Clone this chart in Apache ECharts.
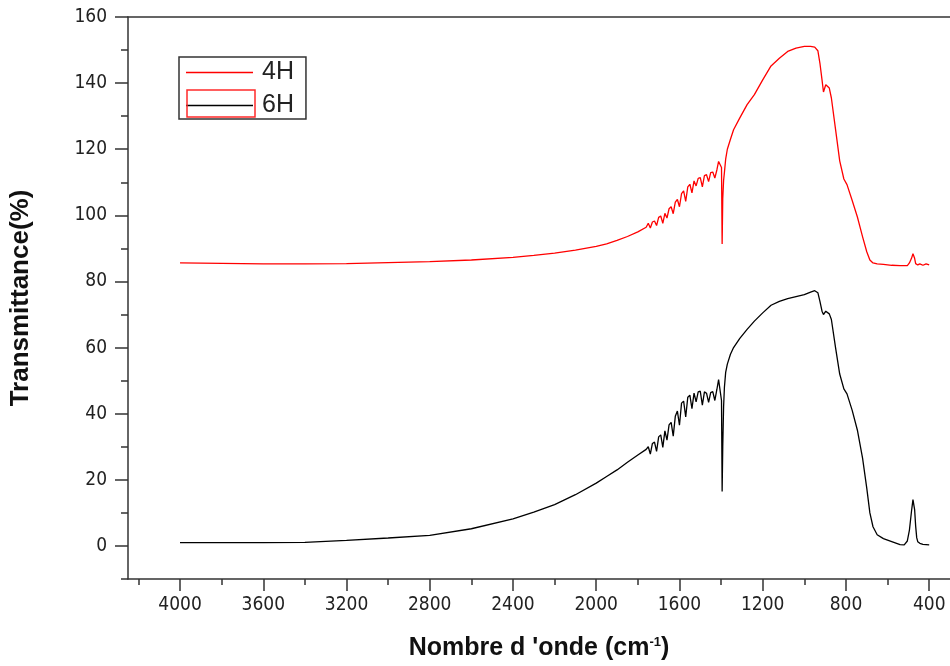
<!DOCTYPE html>
<html>
<head>
<meta charset="utf-8">
<script src="https://cdn.jsdelivr.net/npm/echarts@6/dist/echarts.min.js"></script>
<style>
  html, body { margin: 0; padding: 0; background: #fff; }
  #ftir { width: 950px; height: 666px; }
</style>
</head>
<body>
<div id="ftir"></div>
<script>
// wavenumbers (cm-1), shared by both spectra
const waveNumbers = [
  4000, 3800, 3600, 3400, 3200, 3000, 2800, 2600, 2400, 2300, 2200, 2100, 2000, 1950, 1900, 1850, 1800, 1760,
  1750, 1740, 1730, 1720, 1710, 1700, 1690, 1680, 1670, 1660, 1650, 1640, 1630, 1620, 1610, 1600, 1590,
  1580, 1570, 1560, 1550, 1540, 1530, 1520, 1510, 1500, 1490, 1480, 1470, 1460, 1450, 1440, 1430, 1420,
  1412, 1404, 1398, 1395, 1392, 1388, 1384, 1378, 1370, 1355, 1340, 1310, 1275, 1240, 1200, 1160, 1120,
  1080, 1040, 1000, 970, 950, 935, 925, 915, 908, 903, 897, 890, 880, 870, 850, 830, 810, 795, 770, 745,
  720, 700, 685, 670, 650, 620, 580, 540, 520, 505, 495, 485, 478, 474, 470, 465, 460, 455, 445, 430, 415, 400
]
// 4H sample (red)
const trans4H = [
  85.6, 85.5, 85.3, 85.3, 85.4, 85.7, 86.0, 86.5, 87.3, 87.9, 88.6, 89.5, 90.6, 91.4, 92.4, 93.6, 95.0, 96.4,
  97.6, 96.2, 98.0, 98.3, 96.9, 99.4, 99.8, 97.6, 100.6, 99.2, 102.0, 102.6, 100.5, 104.0, 104.8, 102.6, 106.6,
  107.4, 104.2, 108.6, 109.4, 106.8, 110.4, 108.9, 111.2, 111.4, 108.6, 112.0, 112.3, 110.2, 112.9, 113.1, 111.3, 113.8,
  116.3, 116.6, 114.5, 91.3, 105.0, 110.5, 113.0, 117.0, 120.0, 123.0, 125.9, 129.5, 133.5, 136.5, 141.0, 145.2, 147.5,
  149.6, 150.6, 151.1, 151.1, 150.9, 149.8, 146.0, 141.0, 137.3, 137.0, 139.5, 139.8, 138.5, 135.5, 126.0, 116.5, 111.0, 109.3, 104.5, 99.5,
  93.5, 89.0, 86.5, 85.6, 85.3, 85.2, 84.9, 84.8, 84.8, 84.8, 85.6, 87.0, 88.4, 88.3, 87.0, 85.4, 85.2, 85.0, 85.3, 84.9, 85.3, 85.0
]
// 6H sample (black)
const trans6H = [
  1.0, 1.0, 1.0, 1.1, 1.7, 2.4, 3.2, 5.2, 8.2, 10.2, 12.5, 15.5, 19.0, 21.0, 23.0, 25.3, 27.5, 29.2,
  30.0, 27.8, 31.0, 31.4, 28.6, 33.0, 33.6, 29.8, 34.8, 32.0, 36.6, 37.4, 33.2, 39.2, 40.8, 36.5, 43.2,
  43.8, 39.0, 45.0, 45.6, 41.5, 46.2, 43.6, 46.6, 46.8, 42.6, 46.6, 46.2, 43.4, 46.4, 46.7, 44.0, 47.4,
  50.3, 50.0, 44.0, 16.5, 30.0, 42.0, 48.0, 52.5, 55.0, 58.0, 60.0, 62.8, 65.5, 68.0, 70.5, 72.8, 74.0,
  74.8, 75.4, 76.0, 76.8, 77.2, 76.6, 74.0, 71.0, 70.0, 69.5, 71.0, 71.2, 70.2, 68.5, 60.0, 52.0, 47.5, 46.0, 41.0, 35.0,
  26.5, 17.5, 10.0, 5.8, 3.4, 2.2, 1.3, 0.4, 0.3, 1.5, 4.8, 10.5, 14.0, 13.5, 11.0, 6.0, 2.5, 1.3, 0.8, 0.5, 0.4, 0.3
]
const xMajor = [4000, 3600, 3200, 2800, 2400, 2000, 1600, 1200, 800, 400]
const xMinor = [4200, 3800, 3400, 3000, 2600, 2200, 1800, 1400, 1000, 600]
const yMajor = [0, 20, 40, 60, 80, 100, 120, 140, 160]
const yMinor = [-10, 10, 30, 50, 70, 90, 110, 130, 150]

const pairs = vals => waveNumbers.map((w, i) => [w, vals[i]])

const axisColor = '#333'
const tickFont = { fontSize: 19, color: '#222', fontFamily: '"Liberation Sans Narrow", "DejaVu Sans Condensed", "Liberation Sans", Arial' }

const chart = echarts.init(document.getElementById('ftir'))
chart.setOption({
  animation: false,
  grid: { left: 127, top: 17, right: 0, bottom: 85 },
  legend: {
    data: [{ name: '4H', icon: 'rect' }, { name: '6H', icon: 'rect' }],
    orient: 'vertical',
    left: 179,
    top: 57,
    borderColor: axisColor,
    borderWidth: 1.5,
    borderRadius: 0,
    padding: [3, 12, 1, 7],
    itemWidth: 67,
    itemHeight: 1.6,
    itemGap: 8,
    textStyle: { fontSize: 25, lineHeight: 24, color: '#222', padding: [0, 0, 0, 4], fontFamily: '"Liberation Sans", Arial' }
  },
  graphic: [{
    // odd red frame around the 6H legend swatch in the original
    type: 'rect',
    shape: { x: 187, y: 90, width: 68, height: 27 },
    style: { fill: 'none', stroke: '#ff2a2a', lineWidth: 1.5 },
    z: 100
  }],
  xAxis: [{
    type: 'value',
    position: 'bottom',
    inverse: true,
    min: 300,
    max: 4250,
    name: '{t|Nombre d \'onde (cm}{s|-1}{t|)}',
    nameLocation: 'middle',
    nameGap: 57,
    nameTextStyle: {
      rich: {
        t: { fontSize: 25, fontWeight: 'bold', color: '#111', fontFamily: '"Liberation Sans", Arial' },
        s: { fontSize: 13, fontWeight: 'bold', color: '#111', fontFamily: '"Liberation Sans", Arial', verticalAlign: 'top', padding: [0, 0, 12, 0] }
      }
    },
    axisLine: { onZero: false, lineStyle: { color: axisColor, width: 1.5 } },
    axisTick: { customValues: xMajor, length: 12, lineStyle: { color: axisColor, width: 1.5 } },
    axisLabel: Object.assign({ customValues: xMajor, margin: 17, formatter: v => String(v) }, tickFont),
    splitLine: { show: false }
  }, {
    // minor ticks
    type: 'value',
    position: 'bottom',
    inverse: true,
    min: 300,
    max: 4250,
    axisLine: { show: false, onZero: false },
    axisTick: { customValues: xMinor, length: 6, lineStyle: { color: axisColor, width: 1.5 } },
    axisLabel: { show: false },
    splitLine: { show: false }
  }, {
    // top frame line
    type: 'value',
    position: 'top',
    inverse: true,
    min: 300,
    max: 4250,
    axisLine: { show: true, onZero: false, lineStyle: { color: axisColor, width: 1.5 } },
    axisTick: { show: false },
    axisLabel: { show: false },
    splitLine: { show: false }
  }],
  yAxis: [{
    type: 'value',
    min: -10,
    max: 160,
    name: 'Transmittance(%)',
    nameLocation: 'middle',
    nameGap: 94,
    nameTextStyle: { fontSize: 26, fontWeight: 'bold', color: '#111', fontFamily: '"Liberation Sans", Arial' },
    axisLine: { show: true, onZero: false, lineStyle: { color: axisColor, width: 1.5 } },
    axisTick: { show: true, customValues: yMajor, length: 13, lineStyle: { color: axisColor, width: 1.5 } },
    axisLabel: Object.assign({ customValues: yMajor, margin: 21 }, tickFont),
    splitLine: { show: false }
  }, {
    // minor ticks
    type: 'value',
    position: 'left',
    min: -10,
    max: 160,
    axisLine: { show: false, onZero: false },
    axisTick: { show: true, customValues: yMinor, length: 7, lineStyle: { color: axisColor, width: 1.5 } },
    axisLabel: { show: false },
    splitLine: { show: false }
  }],
  series: [{
    name: '4H',
    type: 'line',
    showSymbol: false,
    symbol: 'none',
    color: '#ff0000',
    lineStyle: { width: 1.3, color: '#ff0000' },
    data: pairs(trans4H)
  }, {
    name: '6H',
    type: 'line',
    showSymbol: false,
    symbol: 'none',
    color: '#000000',
    lineStyle: { width: 1.3, color: '#000000' },
    data: pairs(trans6H)
  }]
})
</script>
</body>
</html>
